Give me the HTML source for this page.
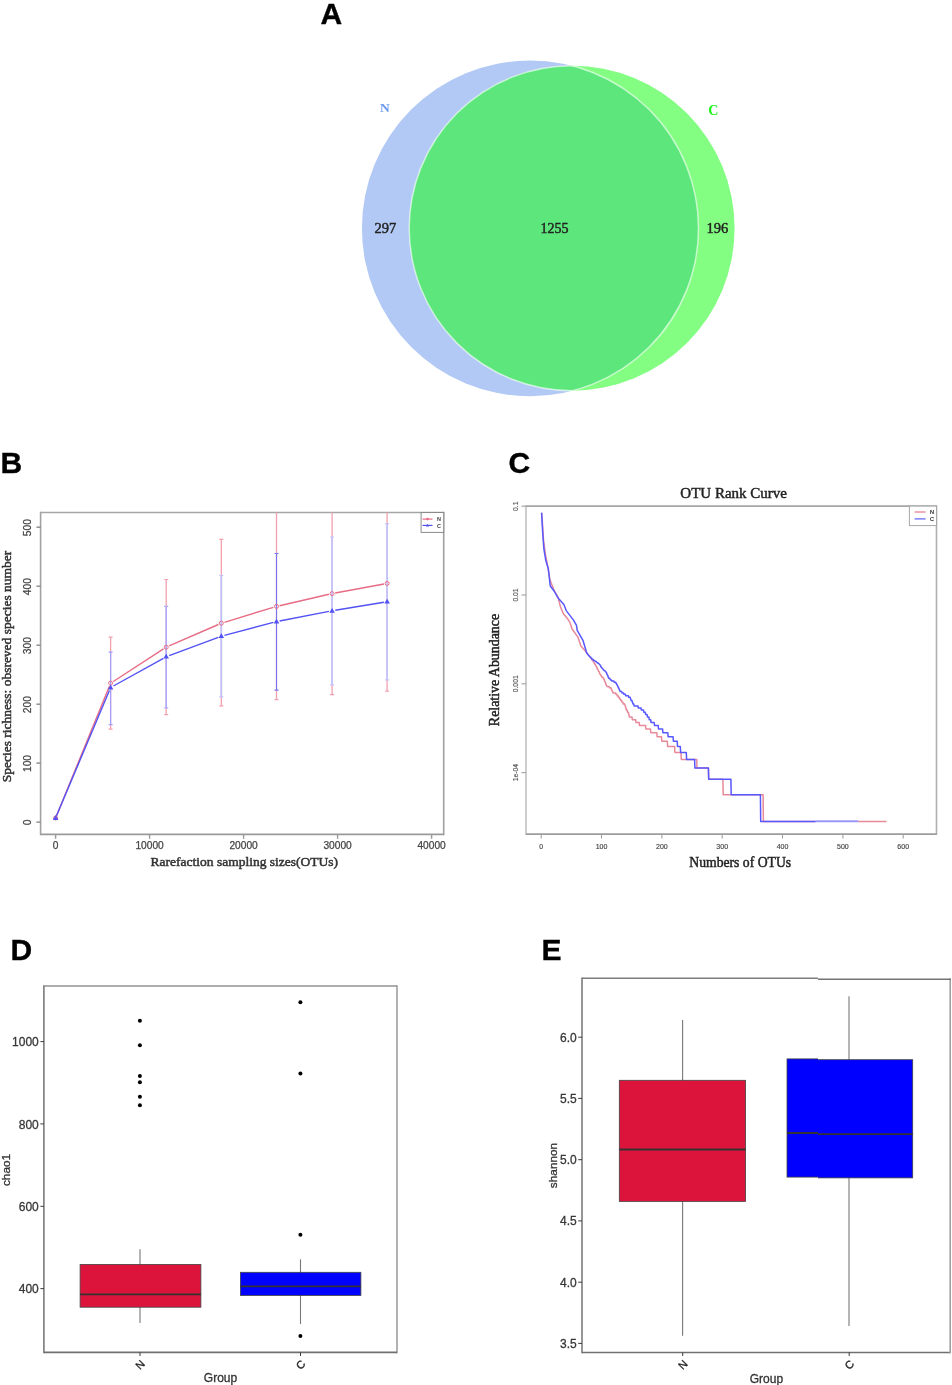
<!DOCTYPE html>
<html><head><meta charset="utf-8"><title>Figure</title>
<style>html,body{margin:0;padding:0;background:#fff;}svg{display:block;filter:blur(0.35px);}</style></head>
<body><svg width="952" height="1385" viewBox="0 0 952 1385">
<rect width="952" height="1385" fill="#fff"/>
<text x="320.5" y="24" font-family="'Liberation Sans', sans-serif" font-weight="bold" font-size="30" fill="#000" stroke="#000" stroke-width="0.35">A</text>
<text x="0.5" y="473" font-family="'Liberation Sans', sans-serif" font-weight="bold" font-size="30" fill="#000" stroke="#000" stroke-width="0.35">B</text>
<text x="508.5" y="472.8" font-family="'Liberation Sans', sans-serif" font-weight="bold" font-size="30" fill="#000" stroke="#000" stroke-width="0.35">C</text>
<text x="10.5" y="960" font-family="'Liberation Sans', sans-serif" font-weight="bold" font-size="30" fill="#000" stroke="#000" stroke-width="0.35">D</text>
<text x="541.5" y="960" font-family="'Liberation Sans', sans-serif" font-weight="bold" font-size="30" fill="#000" stroke="#000" stroke-width="0.35">E</text>
<filter id="bl" x="-50%" y="-50%" width="200%" height="200%"><feGaussianBlur stdDeviation="0.55"/></filter>
<ellipse cx="530.2" cy="228.3" rx="168.3" ry="167.9" fill="#b1c9f4"/>
<ellipse cx="571.9" cy="228.2" rx="162.7" ry="162.5" fill="#84fe82"/>
<clipPath id="cpb"><ellipse cx="530.2" cy="228.3" rx="168.3" ry="167.9"/></clipPath>
<ellipse cx="571.9" cy="228.2" rx="162.7" ry="162.5" fill="#5ce67c" clip-path="url(#cpb)"/>
<ellipse cx="571.9" cy="228.2" rx="162.7" ry="162.5" fill="none" stroke="#fff" stroke-opacity="0.6" stroke-width="1.5" clip-path="url(#cpb)"/>
<clipPath id="cpg"><ellipse cx="571.9" cy="228.2" rx="162.7" ry="162.5"/></clipPath>
<ellipse cx="530.2" cy="228.3" rx="168.3" ry="167.9" fill="none" stroke="#fff" stroke-opacity="0.6" stroke-width="1.5" clip-path="url(#cpg)"/>
<text x="385.3" y="233.3" font-family="'Liberation Serif', serif" font-size="14.5" fill="#222" stroke="#222" stroke-width="0.45" text-anchor="middle">297</text>
<text x="554.6" y="233" font-family="'Liberation Serif', serif" font-size="14" fill="#222" stroke="#222" stroke-width="0.45" text-anchor="middle">1255</text>
<text x="717.4" y="233" font-family="'Liberation Serif', serif" font-size="14.5" fill="#222" stroke="#222" stroke-width="0.45" text-anchor="middle">196</text>
<text x="384.8" y="111.7" font-family="'Liberation Serif', serif" font-weight="bold" font-size="13.5" fill="#6a98f0" text-anchor="middle" filter="url(#bl)">N</text>
<text x="713.4" y="114.7" font-family="'Liberation Serif', serif" font-weight="bold" font-size="14" fill="#18f818" text-anchor="middle" filter="url(#bl)">C</text>
<line x1="40.6" y1="511.70" x2="40.6" y2="835.20" stroke="#a2a2a2" stroke-width="1.6"/>
<line x1="443.7" y1="511.70" x2="443.7" y2="835.20" stroke="#a0a0a0" stroke-width="1.6"/>
<line x1="40.6" y1="512.5" x2="443.7" y2="512.5" stroke="#a6a6a6" stroke-width="1.6"/>
<line x1="40.6" y1="834.4" x2="443.7" y2="834.4" stroke="#9a9a9a" stroke-width="1.6"/>
<line x1="36.4" y1="822.1" x2="40.6" y2="822.1" stroke="#8a8a8a" stroke-width="1.4"/>
<text transform="translate(31.4,822.5) rotate(-90)" font-family="'Liberation Sans', sans-serif" font-size="10.3" fill="#444" stroke="#444" stroke-width="0.25" text-anchor="middle">0</text>
<line x1="36.4" y1="763.1" x2="40.6" y2="763.1" stroke="#8a8a8a" stroke-width="1.4"/>
<text transform="translate(31.4,763.5) rotate(-90)" font-family="'Liberation Sans', sans-serif" font-size="10.3" fill="#444" stroke="#444" stroke-width="0.25" text-anchor="middle">100</text>
<line x1="36.4" y1="704.2" x2="40.6" y2="704.2" stroke="#8a8a8a" stroke-width="1.4"/>
<text transform="translate(31.4,704.6) rotate(-90)" font-family="'Liberation Sans', sans-serif" font-size="10.3" fill="#444" stroke="#444" stroke-width="0.25" text-anchor="middle">200</text>
<line x1="36.4" y1="645.2" x2="40.6" y2="645.2" stroke="#8a8a8a" stroke-width="1.4"/>
<text transform="translate(31.4,645.6) rotate(-90)" font-family="'Liberation Sans', sans-serif" font-size="10.3" fill="#444" stroke="#444" stroke-width="0.25" text-anchor="middle">300</text>
<line x1="36.4" y1="586.2" x2="40.6" y2="586.2" stroke="#8a8a8a" stroke-width="1.4"/>
<text transform="translate(31.4,586.6) rotate(-90)" font-family="'Liberation Sans', sans-serif" font-size="10.3" fill="#444" stroke="#444" stroke-width="0.25" text-anchor="middle">400</text>
<line x1="36.4" y1="527.2" x2="40.6" y2="527.2" stroke="#8a8a8a" stroke-width="1.4"/>
<text transform="translate(31.4,527.6) rotate(-90)" font-family="'Liberation Sans', sans-serif" font-size="10.3" fill="#444" stroke="#444" stroke-width="0.25" text-anchor="middle">500</text>
<line x1="55.6" y1="834.4" x2="55.6" y2="838.8" stroke="#9a9a9a" stroke-width="1.4"/>
<text x="55.6" y="849.2" font-family="'Liberation Sans', sans-serif" font-size="10.2" fill="#444" stroke="#444" stroke-width="0.25" text-anchor="middle">0</text>
<line x1="149.6" y1="834.4" x2="149.6" y2="838.8" stroke="#9a9a9a" stroke-width="1.4"/>
<text x="149.6" y="849.2" font-family="'Liberation Sans', sans-serif" font-size="10.2" fill="#444" stroke="#444" stroke-width="0.25" text-anchor="middle">10000</text>
<line x1="243.6" y1="834.4" x2="243.6" y2="838.8" stroke="#9a9a9a" stroke-width="1.4"/>
<text x="243.6" y="849.2" font-family="'Liberation Sans', sans-serif" font-size="10.2" fill="#444" stroke="#444" stroke-width="0.25" text-anchor="middle">20000</text>
<line x1="337.6" y1="834.4" x2="337.6" y2="838.8" stroke="#9a9a9a" stroke-width="1.4"/>
<text x="337.6" y="849.2" font-family="'Liberation Sans', sans-serif" font-size="10.2" fill="#444" stroke="#444" stroke-width="0.25" text-anchor="middle">30000</text>
<line x1="431.6" y1="834.4" x2="431.6" y2="838.8" stroke="#9a9a9a" stroke-width="1.4"/>
<text x="431.6" y="849.2" font-family="'Liberation Sans', sans-serif" font-size="10.2" fill="#444" stroke="#444" stroke-width="0.25" text-anchor="middle">40000</text>
<text x="244.3" y="866" font-family="'Liberation Serif', serif" font-size="13.5" fill="#333" stroke="#333" stroke-width="0.5" text-anchor="middle">Rarefaction sampling sizes(OTUs)</text>
<text transform="translate(11.2,666.5) rotate(-90)" font-family="'Liberation Serif', serif" font-size="13.5" fill="#333" stroke="#333" stroke-width="0.5" text-anchor="middle">Species richness: obsreved species number</text>
<clipPath id="cpB"><rect x="40.6" y="512.5" width="403.09999999999997" height="321.9"/></clipPath>
<g clip-path="url(#cpB)">
<line x1="110.6" y1="637.2" x2="110.6" y2="729.2" stroke="#f2a0ae" stroke-width="1.3"/>
<line x1="108.6" y1="637.2" x2="112.6" y2="637.2" stroke="#f2a0ae" stroke-width="1.2"/>
<line x1="108.6" y1="729.2" x2="112.6" y2="729.2" stroke="#f2a0ae" stroke-width="1.2"/>
<line x1="166.2" y1="579.5" x2="166.2" y2="714.7" stroke="#f2a0ae" stroke-width="1.3"/>
<line x1="164.2" y1="579.5" x2="168.2" y2="579.5" stroke="#f2a0ae" stroke-width="1.2"/>
<line x1="164.2" y1="714.7" x2="168.2" y2="714.7" stroke="#f2a0ae" stroke-width="1.2"/>
<line x1="221.3" y1="539.3" x2="221.3" y2="705.9" stroke="#f2a0ae" stroke-width="1.3"/>
<line x1="219.3" y1="539.3" x2="223.3" y2="539.3" stroke="#f2a0ae" stroke-width="1.2"/>
<line x1="219.3" y1="705.9" x2="223.3" y2="705.9" stroke="#f2a0ae" stroke-width="1.2"/>
<line x1="276.5" y1="500" x2="276.5" y2="699.6" stroke="#f2a0ae" stroke-width="1.3"/>
<line x1="274.5" y1="699.6" x2="278.5" y2="699.6" stroke="#f2a0ae" stroke-width="1.2"/>
<line x1="332.1" y1="500" x2="332.1" y2="694.7" stroke="#f2a0ae" stroke-width="1.3"/>
<line x1="330.1" y1="694.7" x2="334.1" y2="694.7" stroke="#f2a0ae" stroke-width="1.2"/>
<line x1="387.1" y1="500" x2="387.1" y2="691.1" stroke="#f2a0ae" stroke-width="1.3"/>
<line x1="385.1" y1="691.1" x2="389.1" y2="691.1" stroke="#f2a0ae" stroke-width="1.2"/>
<line x1="110.6" y1="652.1" x2="110.6" y2="724.7" stroke="#a0a0fc" stroke-width="1.2"/>
<line x1="108.6" y1="652.1" x2="112.6" y2="652.1" stroke="#a0a0fc" stroke-width="1.2"/>
<line x1="108.6" y1="724.7" x2="112.6" y2="724.7" stroke="#a0a0fc" stroke-width="1.2"/>
<line x1="166.2" y1="606.4" x2="166.2" y2="707.9" stroke="#aaaafc" stroke-width="1.5"/>
<line x1="164.2" y1="606.4" x2="168.2" y2="606.4" stroke="#aaaafc" stroke-width="1.2"/>
<line x1="164.2" y1="707.9" x2="168.2" y2="707.9" stroke="#aaaafc" stroke-width="1.2"/>
<line x1="221.3" y1="575.5" x2="221.3" y2="696.9" stroke="#c0c0fa" stroke-width="1.8"/>
<line x1="219.3" y1="575.5" x2="223.3" y2="575.5" stroke="#c0c0fa" stroke-width="1.2"/>
<line x1="219.3" y1="696.9" x2="223.3" y2="696.9" stroke="#c0c0fa" stroke-width="1.2"/>
<line x1="276.5" y1="553.5" x2="276.5" y2="690.2" stroke="#7676f2" stroke-width="1.1"/>
<line x1="274.5" y1="553.5" x2="278.5" y2="553.5" stroke="#7676f2" stroke-width="1.2"/>
<line x1="274.5" y1="690.2" x2="278.5" y2="690.2" stroke="#7676f2" stroke-width="1.2"/>
<line x1="332.1" y1="537" x2="332.1" y2="684.9" stroke="#c4c4fa" stroke-width="1.8"/>
<line x1="330.1" y1="537" x2="334.1" y2="537" stroke="#c4c4fa" stroke-width="1.2"/>
<line x1="330.1" y1="684.9" x2="334.1" y2="684.9" stroke="#c4c4fa" stroke-width="1.2"/>
<line x1="387.1" y1="523.6" x2="387.1" y2="679.8" stroke="#c4c4fa" stroke-width="1.8"/>
<line x1="385.1" y1="523.6" x2="389.1" y2="523.6" stroke="#c4c4fa" stroke-width="1.2"/>
<line x1="385.1" y1="679.8" x2="389.1" y2="679.8" stroke="#c4c4fa" stroke-width="1.2"/>
<line x1="56.2" y1="816.6" x2="109.4" y2="686.2" stroke="#e86c84" stroke-width="1.4"/>
<line x1="113.3" y1="681.5" x2="163.5" y2="648.9" stroke="#e86c84" stroke-width="1.4"/>
<line x1="169.1" y1="645.9" x2="218.4" y2="624.5" stroke="#e86c84" stroke-width="1.4"/>
<line x1="224.4" y1="622.3" x2="273.4" y2="607.3" stroke="#e86c84" stroke-width="1.4"/>
<line x1="279.6" y1="605.7" x2="329.0" y2="594.3" stroke="#e86c84" stroke-width="1.4"/>
<line x1="335.2" y1="593.0" x2="384.0" y2="584.0" stroke="#e86c84" stroke-width="1.4"/>
<line x1="56.2" y1="816.6" x2="109.4" y2="690.5" stroke="#5252f4" stroke-width="1.4"/>
<line x1="113.4" y1="686.0" x2="163.4" y2="658.3" stroke="#5252f4" stroke-width="1.4"/>
<line x1="169.2" y1="655.6" x2="218.3" y2="637.3" stroke="#5252f4" stroke-width="1.4"/>
<line x1="224.4" y1="635.4" x2="273.4" y2="622.4" stroke="#5252f4" stroke-width="1.4"/>
<line x1="279.6" y1="621.0" x2="329.0" y2="611.4" stroke="#5252f4" stroke-width="1.4"/>
<line x1="335.3" y1="610.3" x2="383.9" y2="602.2" stroke="#5252f4" stroke-width="1.4"/>
<circle cx="55.6" cy="818" r="2" fill="none" stroke="#e86c84" stroke-width="1"/>
<circle cx="110.6" cy="683.2" r="2" fill="none" stroke="#e86c84" stroke-width="1"/>
<circle cx="166.2" cy="647.2" r="2" fill="none" stroke="#e86c84" stroke-width="1"/>
<circle cx="221.3" cy="623.2" r="2" fill="none" stroke="#e86c84" stroke-width="1"/>
<circle cx="276.5" cy="606.4" r="2" fill="none" stroke="#e86c84" stroke-width="1"/>
<circle cx="332.1" cy="593.6" r="2" fill="none" stroke="#e86c84" stroke-width="1"/>
<circle cx="387.1" cy="583.4" r="2" fill="none" stroke="#e86c84" stroke-width="1"/>
<path d="M52.8,819.9 L58.4,819.9 L55.6,815.1 Z" fill="#5252f4"/>
<path d="M107.8,689.5 L113.4,689.5 L110.6,684.7 Z" fill="#5252f4"/>
<path d="M163.4,658.6 L169.0,658.6 L166.2,653.8 Z" fill="#5252f4"/>
<path d="M218.5,638.1 L224.1,638.1 L221.3,633.3 Z" fill="#5252f4"/>
<path d="M273.7,623.5 L279.3,623.5 L276.5,618.7 Z" fill="#5252f4"/>
<path d="M329.3,612.7 L334.9,612.7 L332.1,607.9 Z" fill="#5252f4"/>
<path d="M384.3,603.6 L389.9,603.6 L387.1,598.8 Z" fill="#5252f4"/>
</g>
<rect x="421.1" y="512.5" width="22.6" height="19.9" fill="#fff" stroke="#8a8a8a" stroke-width="1"/>
<line x1="422.5" y1="519.1" x2="432.5" y2="519.1" stroke="#e86c84" stroke-width="1.2"/>
<circle cx="427.5" cy="519.1" r="1.3" fill="#e86c84"/>
<line x1="422.5" y1="525.4" x2="432.5" y2="525.4" stroke="#5252f4" stroke-width="1.2"/>
<path d="M425.8,526.6 L429.2,526.6 L427.5,523.8 Z" fill="#5252f4"/>
<text x="437" y="521.3" font-family="'Liberation Sans', sans-serif" font-size="5.5" font-weight="bold" fill="#444">N</text>
<text x="437" y="527.6" font-family="'Liberation Sans', sans-serif" font-size="5.5" font-weight="bold" fill="#444">C</text>
<line x1="526" y1="505.30" x2="526" y2="834.90" stroke="#c2c2c2" stroke-width="1.6"/>
<line x1="936.5" y1="505.30" x2="936.5" y2="834.90" stroke="#b0b0b0" stroke-width="1.6"/>
<line x1="526" y1="506.1" x2="936.5" y2="506.1" stroke="#a6a6a6" stroke-width="1.6"/>
<line x1="526" y1="834.1" x2="936.5" y2="834.1" stroke="#9c9c9c" stroke-width="1.6"/>
<line x1="521.5" y1="506.2" x2="526" y2="506.2" stroke="#a0a0a0" stroke-width="1.1"/>
<text transform="translate(517.6,506.2) rotate(-90)" font-family="'Liberation Sans', sans-serif" font-size="6.8" fill="#555" stroke="#555" stroke-width="0.15" text-anchor="middle">0.1</text>
<line x1="521.5" y1="595.0" x2="526" y2="595.0" stroke="#a0a0a0" stroke-width="1.1"/>
<text transform="translate(517.6,595.0) rotate(-90)" font-family="'Liberation Sans', sans-serif" font-size="6.8" fill="#555" stroke="#555" stroke-width="0.15" text-anchor="middle">0.01</text>
<line x1="521.5" y1="683.8" x2="526" y2="683.8" stroke="#a0a0a0" stroke-width="1.1"/>
<text transform="translate(517.6,683.8) rotate(-90)" font-family="'Liberation Sans', sans-serif" font-size="6.8" fill="#555" stroke="#555" stroke-width="0.15" text-anchor="middle">0.001</text>
<line x1="521.5" y1="772.6" x2="526" y2="772.6" stroke="#a0a0a0" stroke-width="1.1"/>
<text transform="translate(517.6,772.6) rotate(-90)" font-family="'Liberation Sans', sans-serif" font-size="6.8" fill="#555" stroke="#555" stroke-width="0.15" text-anchor="middle">1e-04</text>
<line x1="541.2" y1="834.1" x2="541.2" y2="838.5" stroke="#a0a0a0" stroke-width="1.1"/>
<text x="541.2" y="849.3" font-family="'Liberation Sans', sans-serif" font-size="7" fill="#444" stroke="#444" stroke-width="0.15" text-anchor="middle">0</text>
<line x1="601.5" y1="834.1" x2="601.5" y2="838.5" stroke="#a0a0a0" stroke-width="1.1"/>
<text x="601.5" y="849.3" font-family="'Liberation Sans', sans-serif" font-size="7" fill="#444" stroke="#444" stroke-width="0.15" text-anchor="middle">100</text>
<line x1="661.9" y1="834.1" x2="661.9" y2="838.5" stroke="#a0a0a0" stroke-width="1.1"/>
<text x="661.9" y="849.3" font-family="'Liberation Sans', sans-serif" font-size="7" fill="#444" stroke="#444" stroke-width="0.15" text-anchor="middle">200</text>
<line x1="722.2" y1="834.1" x2="722.2" y2="838.5" stroke="#a0a0a0" stroke-width="1.1"/>
<text x="722.2" y="849.3" font-family="'Liberation Sans', sans-serif" font-size="7" fill="#444" stroke="#444" stroke-width="0.15" text-anchor="middle">300</text>
<line x1="782.5" y1="834.1" x2="782.5" y2="838.5" stroke="#a0a0a0" stroke-width="1.1"/>
<text x="782.5" y="849.3" font-family="'Liberation Sans', sans-serif" font-size="7" fill="#444" stroke="#444" stroke-width="0.15" text-anchor="middle">400</text>
<line x1="842.9" y1="834.1" x2="842.9" y2="838.5" stroke="#a0a0a0" stroke-width="1.1"/>
<text x="842.9" y="849.3" font-family="'Liberation Sans', sans-serif" font-size="7" fill="#444" stroke="#444" stroke-width="0.15" text-anchor="middle">500</text>
<line x1="903.2" y1="834.1" x2="903.2" y2="838.5" stroke="#a0a0a0" stroke-width="1.1"/>
<text x="903.2" y="849.3" font-family="'Liberation Sans', sans-serif" font-size="7" fill="#444" stroke="#444" stroke-width="0.15" text-anchor="middle">600</text>
<text x="733.7" y="498.2" font-family="'Liberation Serif', serif" font-size="15" fill="#222" stroke="#222" stroke-width="0.45" text-anchor="middle">OTU Rank Curve</text>
<text x="740.2" y="866.8" font-family="'Liberation Serif', serif" font-size="13.7" fill="#222" stroke="#222" stroke-width="0.45" text-anchor="middle">Numbers of OTUs</text>
<text transform="translate(499.3,670) rotate(-90)" font-family="'Liberation Serif', serif" font-size="13.9" fill="#222" stroke="#222" stroke-width="0.45" text-anchor="middle">Relative Abundance</text>
<path d="M541.6,513.0 L542.6,525.2 L543.5,540.0 L545.5,555.0 L547.5,565.0 L550.0,580.0 L554.0,590.0 L558.1,597.4 L559.6,603.4 L560.3,606.2 L563.2,613.5 L567.8,619.1 L569.9,622.4 L572.1,629.0 L577.9,637.1 L580.9,645.9 L586.0,651.8 L590.1,657.0 L590.4,657.0 L590.7,658.1 L591.0,658.1 L591.3,658.7 L591.6,658.7 L591.9,659.8 L592.2,659.8 L592.5,660.4 L592.8,660.4 L593.1,661.6 L593.4,661.6 L593.7,662.2 L594.0,662.2 L594.3,663.5 L594.6,663.5 L594.9,664.1 L595.2,664.1 L595.5,665.5 L595.8,665.5 L596.1,666.2 L596.4,666.2 L596.7,667.6 L597.0,667.6 L597.3,669.0 L597.6,669.0 L597.9,669.8 L598.2,669.8 L598.5,671.3 L598.8,671.3 L599.1,672.1 L599.4,672.1 L599.7,673.8 L600.0,673.8 L600.3,674.6 L600.6,674.6 L600.9,675.5 L601.2,675.5 L601.5,676.4 L601.8,676.4 L602.1,677.3 L602.7,677.3 L603.0,677.3 L603.3,678.2 L603.6,678.2 L603.9,679.2 L604.2,679.2 L604.5,681.1 L604.8,681.1 L605.1,682.2 L605.5,682.2 L605.8,684.3 L606.1,684.3 L606.4,685.4 L606.7,685.4 L607.0,686.6 L607.6,686.6 L608.2,686.6 L608.8,686.6 L609.1,686.6 L609.4,687.8 L610.0,687.8 L610.6,687.8 L610.9,687.8 L611.2,689.0 L611.5,689.0 L611.8,690.3 L612.1,690.3 L612.4,691.6 L612.7,691.6 L613.0,692.9 L613.6,692.9 L614.2,692.9 L614.8,692.9 L615.4,692.9 L615.7,692.9 L616.0,694.3 L616.6,694.3 L616.9,694.3 L617.2,695.8 L617.8,695.8 L618.1,695.8 L618.4,697.3 L619.0,697.3 L619.3,697.3 L619.6,698.9 L620.2,698.9 L620.5,698.9 L620.8,700.5 L621.4,700.5 L621.7,700.5 L622.0,702.2 L622.6,702.2 L622.9,702.2 L623.2,704.0 L623.9,704.0 L624.5,704.0 L624.8,704.0 L625.1,705.9 L625.4,705.9 L625.7,707.9 L626.0,707.9 L626.3,710.0 L626.9,710.0 L627.2,710.0 L627.5,712.2 L628.1,712.2 L628.4,712.2 L628.7,714.5 L629.0,714.5 L629.3,717.0 L629.9,717.0 L630.5,717.0 L631.1,717.0 L631.7,717.0 L632.0,717.0 L632.3,719.7 L632.9,719.7 L633.5,719.7 L634.1,719.7 L634.7,719.7 L635.3,719.7 L635.6,719.7 L635.9,722.5 L636.5,722.5 L637.1,722.5 L637.7,722.5 L638.3,722.5 L638.9,722.5 L639.2,722.5 L639.5,725.6 L640.1,725.6 L640.7,725.6 L641.0,725.6 L645.6,725.6 L645.9,729.0 L650.5,729.0 L650.8,732.7 L656.8,732.7 L657.1,736.7 L661.5,736.7 L661.8,741.3 L667.3,741.3 L667.6,746.4 L674.6,746.4 L674.9,752.4 L681.0,752.4 L681.3,759.4 L696.7,759.4 L697.0,768.1 L708.4,768.1 L708.7,779.2 L722.9,779.2 L723.2,794.8 L763.1,794.8 L763.4,821.6 L886.5,821.6" fill="none" stroke="#e8899a" stroke-width="1.5" stroke-linejoin="round"/>
<path d="M541.6,512.6 L542.6,531.5 L543.9,549.2 L545.8,560.5 L548.3,568.7 L550.2,585.7 L554.4,591.5 L557.1,596.4 L558.8,598.8 L564.0,604.7 L566.2,610.6 L573.5,620.1 L576.5,625.3 L577.2,630.4 L583.1,640.7 L586.8,653.2 L590.1,657.0 L590.4,657.0 L590.7,657.5 L591.0,657.5 L591.3,658.1 L591.6,658.1 L591.9,659.2 L592.5,659.2 L592.8,659.2 L593.1,659.8 L593.4,659.8 L593.7,660.4 L594.3,660.4 L594.6,660.4 L594.9,661.0 L595.2,661.0 L595.5,661.6 L596.1,661.6 L596.4,661.6 L596.7,662.2 L597.0,662.2 L597.3,662.9 L597.9,662.9 L598.2,662.9 L598.5,663.5 L598.8,663.5 L599.1,664.1 L599.4,664.1 L599.7,664.8 L600.0,664.8 L600.3,665.5 L600.6,665.5 L600.9,666.9 L601.2,666.9 L601.5,667.6 L601.8,667.6 L602.1,668.3 L602.4,668.3 L602.7,669.0 L603.0,669.0 L603.3,669.8 L603.6,669.8 L603.9,670.5 L604.5,670.5 L604.8,670.5 L605.1,671.3 L605.5,671.3 L605.8,672.1 L606.1,672.1 L606.4,672.9 L606.7,672.9 L607.0,674.6 L607.3,674.6 L607.6,675.5 L607.9,675.5 L608.2,677.3 L608.5,677.3 L608.8,678.2 L609.4,678.2 L609.7,678.2 L610.0,679.2 L610.3,679.2 L610.6,680.1 L611.2,680.1 L611.5,680.1 L611.8,681.1 L612.4,681.1 L613.0,681.1 L613.6,681.1 L613.9,681.1 L614.2,682.2 L614.8,682.2 L615.4,682.2 L615.7,682.2 L616.0,683.2 L616.3,683.2 L616.6,684.3 L616.9,684.3 L617.2,685.4 L617.5,685.4 L617.8,686.6 L618.1,686.6 L618.4,687.8 L618.7,687.8 L619.0,689.0 L619.3,689.0 L619.6,690.3 L619.9,690.3 L620.2,691.6 L620.8,691.6 L621.4,691.6 L621.7,691.6 L622.0,692.9 L622.6,692.9 L623.2,692.9 L623.6,692.9 L623.9,694.3 L624.5,694.3 L625.1,694.3 L625.4,694.3 L625.7,695.8 L626.3,695.8 L626.9,695.8 L627.5,695.8 L628.1,695.8 L628.4,695.8 L628.7,697.3 L629.3,697.3 L629.9,697.3 L630.2,697.3 L630.5,698.9 L630.8,698.9 L631.1,700.5 L631.7,700.5 L632.0,700.5 L632.3,702.2 L632.6,702.2 L632.9,704.0 L633.5,704.0 L633.8,704.0 L634.1,705.9 L634.7,705.9 L635.3,705.9 L635.9,705.9 L636.5,705.9 L637.1,705.9 L637.7,705.9 L638.0,705.9 L638.3,707.9 L638.9,707.9 L639.5,707.9 L640.1,707.9 L640.7,707.9 L641.0,707.9 L641.3,710.0 L642.0,710.0 L642.6,710.0 L643.2,710.0 L643.5,710.0 L643.8,712.2 L644.4,712.2 L645.0,712.2 L645.3,712.2 L645.6,714.5 L646.2,714.5 L646.8,714.5 L647.1,714.5 L647.4,717.0 L648.0,717.0 L648.6,717.0 L648.9,717.0 L649.2,719.7 L649.8,719.7 L650.4,719.7 L650.7,719.7 L651.0,722.5 L651.3,722.5 L654.2,722.5 L654.5,725.6 L658.2,725.6 L658.5,729.0 L662.6,729.0 L662.9,732.7 L667.8,732.7 L668.1,736.7 L673.1,736.7 L673.4,741.3 L677.2,741.3 L677.5,746.4 L680.3,746.4 L680.6,752.4 L686.3,752.4 L686.6,759.4 L694.6,759.4 L694.9,768.1 L708.4,768.1 L708.7,779.2 L730.9,779.2 L731.2,794.8 L760.4,794.8 L760.7,821.6 L858.2,821.6" fill="none" stroke="#5858ff" stroke-width="1.5" stroke-linejoin="round"/>
<line x1="815.8" y1="821.9" x2="858.2" y2="821.9" stroke="#fff" stroke-width="2.2"/>
<line x1="815.8" y1="821.4" x2="858.2" y2="821.4" stroke="#9696fa" stroke-width="1.6"/>
<rect x="909.4" y="506.1" width="27.1" height="19.5" fill="#fff" stroke="#a8a8a8" stroke-width="1"/>
<line x1="914.6" y1="512" x2="925.6" y2="512" stroke="#e06a80" stroke-width="1.1"/>
<line x1="914.6" y1="518.9" x2="925.6" y2="518.9" stroke="#5050f4" stroke-width="1.1"/>
<text x="930" y="514.2" font-family="'Liberation Sans', sans-serif" font-size="5.5" fill="#222" stroke="#222" stroke-width="0.2">N</text>
<text x="930" y="521.1" font-family="'Liberation Sans', sans-serif" font-size="5.5" fill="#222" stroke="#222" stroke-width="0.2">C</text>
<line x1="43.9" y1="985.20" x2="43.9" y2="1353.20" stroke="#7a7a7a" stroke-width="1.6"/>
<line x1="397.0" y1="985.20" x2="397.0" y2="1353.20" stroke="#9e9e9e" stroke-width="1.6"/>
<line x1="43.9" y1="986" x2="397.0" y2="986" stroke="#929292" stroke-width="1.6"/>
<line x1="43.9" y1="1352.4" x2="397.0" y2="1352.4" stroke="#707070" stroke-width="1.6"/>
<line x1="40.4" y1="1288.6" x2="43.9" y2="1288.6" stroke="#3a3a3a" stroke-width="1.0"/>
<text x="38.8" y="1293.2" font-family="'Liberation Sans', sans-serif" font-size="12" fill="#383838" stroke="#383838" stroke-width="0.3" text-anchor="end">400</text>
<line x1="40.4" y1="1206.3" x2="43.9" y2="1206.3" stroke="#3a3a3a" stroke-width="1.0"/>
<text x="38.8" y="1210.9" font-family="'Liberation Sans', sans-serif" font-size="12" fill="#383838" stroke="#383838" stroke-width="0.3" text-anchor="end">600</text>
<line x1="40.4" y1="1123.9" x2="43.9" y2="1123.9" stroke="#3a3a3a" stroke-width="1.0"/>
<text x="38.8" y="1128.5" font-family="'Liberation Sans', sans-serif" font-size="12" fill="#383838" stroke="#383838" stroke-width="0.3" text-anchor="end">800</text>
<line x1="40.4" y1="1041.6" x2="43.9" y2="1041.6" stroke="#3a3a3a" stroke-width="1.0"/>
<text x="38.8" y="1046.2" font-family="'Liberation Sans', sans-serif" font-size="12" fill="#383838" stroke="#383838" stroke-width="0.3" text-anchor="end">1000</text>
<line x1="140" y1="1249.2" x2="140" y2="1323" stroke="#777" stroke-width="1.1"/>
<rect x="80.1" y="1264.4" width="120.8" height="42.8" fill="#dc143c" stroke="#444" stroke-width="0.8"/>
<line x1="80.1" y1="1294.4" x2="200.9" y2="1294.4" stroke="#333" stroke-width="1.8"/>
<line x1="300.5" y1="1259.3" x2="300.5" y2="1323.9" stroke="#777" stroke-width="1.1"/>
<rect x="240.4" y="1272.3" width="120.5" height="23.2" fill="#0000ff" stroke="#444" stroke-width="0.8"/>
<line x1="240.4" y1="1286.3" x2="360.9" y2="1286.3" stroke="#333" stroke-width="1.8"/>
<circle cx="139.9" cy="1020.8" r="2" fill="#000"/>
<circle cx="139.9" cy="1045.3" r="2" fill="#000"/>
<circle cx="139.9" cy="1076" r="2" fill="#000"/>
<circle cx="139.9" cy="1082.3" r="2" fill="#000"/>
<circle cx="139.9" cy="1096.8" r="2" fill="#000"/>
<circle cx="139.9" cy="1105.3" r="2" fill="#000"/>
<circle cx="300.4" cy="1002.3" r="2" fill="#000"/>
<circle cx="300.4" cy="1073.4" r="2" fill="#000"/>
<circle cx="300.4" cy="1234.8" r="2" fill="#000"/>
<circle cx="300.4" cy="1336.1" r="2" fill="#000"/>
<line x1="140" y1="1352.4" x2="140" y2="1356" stroke="#3a3a3a" stroke-width="1.0"/>
<text transform="translate(140,1364.5) rotate(-45)" font-family="'Liberation Sans', sans-serif" font-size="11" fill="#222" stroke="#222" stroke-width="0.3" text-anchor="middle" dominant-baseline="central">N</text>
<line x1="300.5" y1="1352.4" x2="300.5" y2="1356" stroke="#3a3a3a" stroke-width="1.0"/>
<text transform="translate(300.5,1364.5) rotate(-45)" font-family="'Liberation Sans', sans-serif" font-size="11" fill="#222" stroke="#222" stroke-width="0.3" text-anchor="middle" dominant-baseline="central">C</text>
<text x="220.5" y="1381.5" font-family="'Liberation Sans', sans-serif" font-size="12" fill="#333" stroke="#333" stroke-width="0.3" text-anchor="middle">Group</text>
<text transform="translate(10,1170) rotate(-90)" font-family="'Liberation Sans', sans-serif" font-size="11.8" fill="#333" stroke="#333" stroke-width="0.3" text-anchor="middle">chao1</text>
<line x1="582" y1="977.5" x2="582" y2="1353.3" stroke="#7c7c7c" stroke-width="1.6"/>
<line x1="582" y1="1352.5" x2="950.2" y2="1352.5" stroke="#707070" stroke-width="1.6"/>
<line x1="950.2" y1="978.5" x2="950.2" y2="1353.3" stroke="#a0a0a0" stroke-width="1.6"/>
<line x1="582" y1="978.3" x2="817.9" y2="978.3" stroke="#7c7c7c" stroke-width="1.6"/>
<line x1="817.9" y1="979.3" x2="951.0" y2="979.3" stroke="#747474" stroke-width="1.6"/>
<line x1="578.2" y1="1343.4" x2="582" y2="1343.4" stroke="#3a3a3a" stroke-width="1.0"/>
<text x="576.7" y="1347.8" font-family="'Liberation Sans', sans-serif" font-size="12" fill="#383838" stroke="#383838" stroke-width="0.3" text-anchor="end">3.5</text>
<line x1="578.2" y1="1282.2" x2="582" y2="1282.2" stroke="#3a3a3a" stroke-width="1.0"/>
<text x="576.7" y="1286.6" font-family="'Liberation Sans', sans-serif" font-size="12" fill="#383838" stroke="#383838" stroke-width="0.3" text-anchor="end">4.0</text>
<line x1="578.2" y1="1220.9" x2="582" y2="1220.9" stroke="#3a3a3a" stroke-width="1.0"/>
<text x="576.7" y="1225.3" font-family="'Liberation Sans', sans-serif" font-size="12" fill="#383838" stroke="#383838" stroke-width="0.3" text-anchor="end">4.5</text>
<line x1="578.2" y1="1159.7" x2="582" y2="1159.7" stroke="#3a3a3a" stroke-width="1.0"/>
<text x="576.7" y="1164.1" font-family="'Liberation Sans', sans-serif" font-size="12" fill="#383838" stroke="#383838" stroke-width="0.3" text-anchor="end">5.0</text>
<line x1="578.2" y1="1098.4" x2="582" y2="1098.4" stroke="#3a3a3a" stroke-width="1.0"/>
<text x="576.7" y="1102.8" font-family="'Liberation Sans', sans-serif" font-size="12" fill="#383838" stroke="#383838" stroke-width="0.3" text-anchor="end">5.5</text>
<line x1="578.2" y1="1037.2" x2="582" y2="1037.2" stroke="#3a3a3a" stroke-width="1.0"/>
<text x="576.7" y="1041.6" font-family="'Liberation Sans', sans-serif" font-size="12" fill="#383838" stroke="#383838" stroke-width="0.3" text-anchor="end">6.0</text>
<line x1="682.6" y1="1020" x2="682.6" y2="1335.7" stroke="#777" stroke-width="1.1"/>
<rect x="619.3" y="1080.3" width="126.3" height="121.1" fill="#dc143c" stroke="#444" stroke-width="0.8"/>
<line x1="619.3" y1="1149.5" x2="745.6" y2="1149.5" stroke="#333" stroke-width="1.8"/>
<line x1="849" y1="996.3" x2="849" y2="1325.9" stroke="#777" stroke-width="1.1"/>
<clipPath id="cpEL"><rect x="700" y="1000" width="117.89999999999998" height="300"/></clipPath>
<clipPath id="cpER"><rect x="817.9" y="1000" width="132.10000000000002" height="300"/></clipPath>
<g clip-path="url(#cpEL)">
<rect x="787" y="1058.9" width="125.7" height="118.2" fill="#0000ff" stroke="#444" stroke-width="0.8"/>
<line x1="787" y1="1133.0" x2="912.7" y2="1133.0" stroke="#333" stroke-width="1.8"/>
</g>
<g clip-path="url(#cpER)">
<rect x="787" y="1059.7" width="125.7" height="118.2" fill="#0000ff" stroke="#444" stroke-width="0.8"/>
<line x1="787" y1="1134.1" x2="912.7" y2="1134.1" stroke="#333" stroke-width="1.8"/>
</g>
<line x1="682.7" y1="1352.5" x2="682.7" y2="1356" stroke="#3a3a3a" stroke-width="1.0"/>
<text transform="translate(682.7,1364.7) rotate(-45)" font-family="'Liberation Sans', sans-serif" font-size="11" fill="#222" stroke="#222" stroke-width="0.3" text-anchor="middle" dominant-baseline="central">N</text>
<line x1="849.2" y1="1352.5" x2="849.2" y2="1356" stroke="#3a3a3a" stroke-width="1.0"/>
<text transform="translate(849.2,1364.7) rotate(-45)" font-family="'Liberation Sans', sans-serif" font-size="11" fill="#222" stroke="#222" stroke-width="0.3" text-anchor="middle" dominant-baseline="central">C</text>
<text x="766.4" y="1382.6" font-family="'Liberation Sans', sans-serif" font-size="12" fill="#333" stroke="#333" stroke-width="0.3" text-anchor="middle">Group</text>
<text transform="translate(557,1165.5) rotate(-90)" font-family="'Liberation Sans', sans-serif" font-size="11.8" fill="#333" stroke="#333" stroke-width="0.3" text-anchor="middle">shannon</text>
</svg></body></html>
